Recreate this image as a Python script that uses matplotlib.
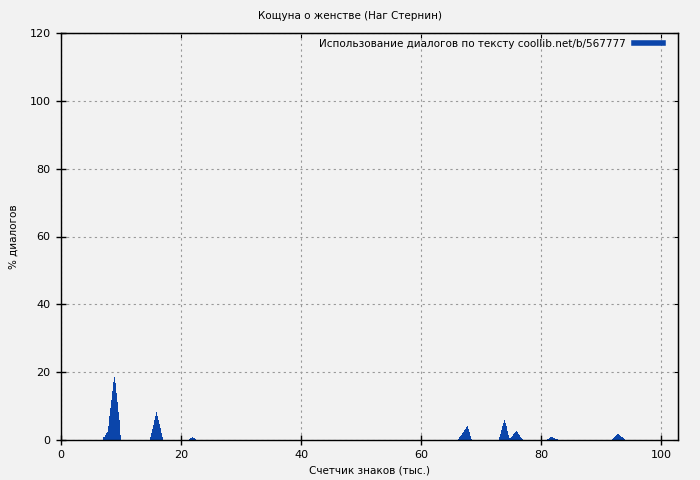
import matplotlib
matplotlib.use("Agg")
import matplotlib.pyplot as plt
from matplotlib.lines import Line2D

title = "Кощуна о женстве (Наг Стернин)"
legend_label = "Использование диалогов по тексту coollib.net/b/567777"
xlabel = "Счетчик знаков (тыс.)"
ylabel = "% диалогов"

bar_color = "#0b45aa"
step = 1 / 6  # sample width, thousand chars

# peaks: x of each sample (thousand chars) and % dialogue
x1 = [7.00, 7.17, 7.33, 7.50, 7.67, 7.83, 8.00, 8.17, 8.33, 8.50, 8.67, 8.83, 9.00, 9.17, 9.33, 9.50, 9.67, 9.83]
y1 = [0.8, 1.0, 1.5, 2.0, 2.5, 4.0, 7.0, 9.4, 11.8, 14.3, 17.2, 18.7, 16.8, 13.8, 11.3, 8.4, 5.9, 1.5]

x2 = [14.83, 15.00, 15.17, 15.33, 15.50, 15.67, 15.83, 16.00, 16.17, 16.33, 16.50, 16.67, 16.83]
y2 = [0.8, 2.0, 3.3, 4.5, 5.8, 7.0, 8.3, 7.2, 6.0, 4.7, 3.4, 2.0, 0.8]

x3 = [21.33, 21.50, 21.67, 21.83, 22.00, 22.17, 22.33]
y3 = [0.3, 0.5, 0.7, 0.9, 0.7, 0.5, 0.3]

x4 = [66.17, 66.33, 66.50, 66.67, 66.83, 67.00, 67.17, 67.33, 67.50, 67.67, 67.83, 68.00, 68.17, 68.33]
y4 = [0.3, 0.8, 1.2, 1.6, 2.0, 2.4, 2.9, 3.3, 3.8, 4.2, 3.3, 2.3, 1.3, 0.4]

x5 = [73.00, 73.17, 73.33, 73.50, 73.67, 73.83, 74.00, 74.17, 74.33, 74.50, 74.67,
      74.83, 75.00, 75.17, 75.33, 75.50, 75.67, 75.83, 76.00, 76.17, 76.33, 76.50, 76.67, 76.83]
y5 = [0.8, 1.8, 2.9, 4.0, 5.1, 5.9, 5.0, 4.0, 2.8, 1.6, 0.5,
      0.5, 0.9, 1.3, 1.7, 2.1, 2.5, 2.7, 2.3, 1.9, 1.5, 1.0, 0.6, 0.3]

x6 = [81.00, 81.17, 81.33, 81.50, 81.67, 81.83, 82.00, 82.17, 82.33, 82.50, 82.67]
y6 = [0.2, 0.4, 0.6, 0.8, 0.9, 0.8, 0.6, 0.5, 0.4, 0.3, 0.2]

x7 = [91.83, 92.00, 92.17, 92.33, 92.50, 92.67, 92.83, 93.00, 93.17, 93.33, 93.50, 93.67, 93.83, 94.00]
y7 = [0.3, 0.6, 0.9, 1.2, 1.5, 1.7, 1.8, 1.6, 1.3, 1.0, 0.8, 0.5, 0.3, 0.1]

xs = x1 + x2 + x3 + x4 + x5 + x6 + x7
ys = y1 + y2 + y3 + y4 + y5 + y6 + y7

xticks = [0, 20, 40, 60, 80, 100]
yticks = [0, 20, 40, 60, 80, 100, 120]

bg = "#f2f2f2"
plt.rcParams["font.family"] = ["DejaVu Sans"]
plt.rcParams["font.size"] = 7.5

fig = plt.figure(figsize=(7, 4.8), dpi=100, facecolor=bg)
ax = fig.add_axes([61 / 700, 40 / 480, 617 / 700, 407 / 480], facecolor=bg)

ax.bar(xs, ys, width=step, align="edge", color=bar_color, linewidth=0)

ax.set_xlim(0, 102.83)
ax.set_ylim(0, 120)
ax.set_xticks(xticks)
ax.set_yticks(yticks)
ax.grid(True, color="#999999", linestyle=(0, (2, 3)), linewidth=0.8)
ax.set_axisbelow(True)
ax.tick_params(direction="inout", length=7, width=1, labelsize=8, pad=4)
for sp in ax.spines.values():
    sp.set_linewidth(1)

# mirrored small inward ticks on top and right
top = ax.secondary_xaxis("top")
top.set_xticks(xticks)
top.tick_params(direction="in", length=3.5, width=0.8, labeltop=False)
right = ax.secondary_yaxis("right")
right.set_yticks(yticks)
right.tick_params(direction="in", length=3.5, width=0.8, labelright=False)

fig.text(0.5, 1 - 16 / 480, title, ha="center", va="center", fontsize=7.5)
ax.set_xlabel(xlabel, fontsize=7.5, labelpad=4)
ax.set_ylabel(ylabel, fontsize=7.5, labelpad=8)

handle = Line2D([], [], color=bar_color, linewidth=4)
ax.legend([handle], [legend_label], loc="upper right", frameon=False,
          markerfirst=False, handlelength=2.8, fontsize=7.5,
          borderaxespad=0.3, handletextpad=0.7, bbox_to_anchor=(0.987, 1.003))

fig.savefig("out.png", dpi=100, facecolor=bg)
